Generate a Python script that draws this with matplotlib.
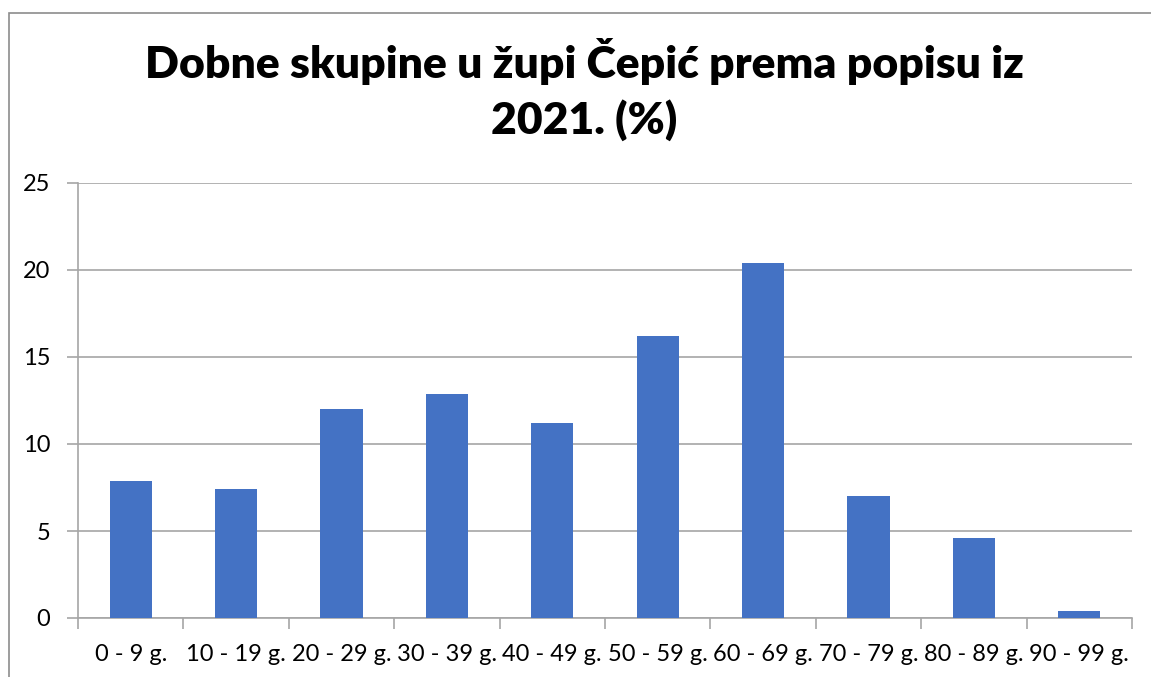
import matplotlib
matplotlib.use("Agg")
import matplotlib.pyplot as plt
from matplotlib.patches import Rectangle

categories = ["0 - 9 g.", "10 - 19 g.", "20 - 29 g.", "30 - 39 g.", "40 - 49 g.",
              "50 - 59 g.", "60 - 69 g.", "70 - 79 g.", "80 - 89 g.", "90 - 99 g."]
values = [7.9, 7.4, 12.0, 12.9, 11.2, 16.2, 20.4, 7.0, 4.6, 0.4]
yticks = [0, 5, 10, 15, 20, 25]
title = "Dobne skupine u župi Čepić prema popisu iz\n2021. (%)"

W, H = 1151, 677
fig = plt.figure(figsize=(W / 100, H / 100), dpi=100)
plt.rcParams['font.family'] = ['Lato', 'DejaVu Sans']

# outer chart frame (cropped on right and bottom)
fig.patches.append(Rectangle((8.5 / W, -0.1), 1.2, (H - 12.5) / H + 0.1,
                             transform=fig.transFigure, fill=False,
                             edgecolor='#8c8c8c', linewidth=1.2))

left, right, top, bottom = 78, 1132, 183, 618
ax = fig.add_axes([left / W, 1 - bottom / H, (right - left) / W, (bottom - top) / H])

x = list(range(len(categories)))
ax.bar(x, values, width=0.4, color='#4472C4', zorder=3)
ax.set_xlim(-0.5, len(categories) - 0.5)
ax.set_ylim(0, 25)
ax.set_yticks(yticks)
ax.set_xticks(x)
ax.set_xticklabels(categories, fontsize=17)
ax.tick_params(axis='x', length=0, pad=19)
ax.set_xticks([i - 0.5 for i in range(len(categories) + 1)], minor=True)
ax.tick_params(axis='x', which='minor', length=8, color='#a6a6a6', width=1.2)
ax.tick_params(axis='y', length=8, color='#a6a6a6', width=1.2, labelsize=17, pad=12)
ax.yaxis.grid(True, color='#a6a6a6', linewidth=1.2, zorder=0)
for s in ['top', 'right']:
    ax.spines[s].set_visible(False)
for s in ['left', 'bottom']:
    ax.spines[s].set_color('#a6a6a6')
    ax.spines[s].set_linewidth(1.2)

fig.text(584 / W, 1 - 38 / H, title, ha='center', va='top', fontsize=32,
         fontweight='heavy', linespacing=1.4)

fig.savefig("out.png", dpi=100)
